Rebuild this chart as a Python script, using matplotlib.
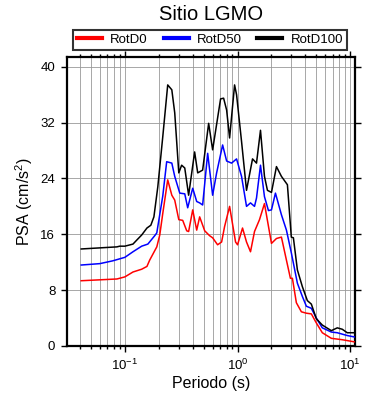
import matplotlib
matplotlib.use("Agg")
import matplotlib.pyplot as plt
from matplotlib.ticker import LogLocator, FixedLocator

plt.rcParams["font.family"] = ["Liberation Sans", "DejaVu Sans"]
plt.rcParams["mathtext.fontset"] = "custom"
plt.rcParams["mathtext.rm"] = "Liberation Sans"
plt.rcParams["mathtext.it"] = "Liberation Sans:italic"

# ------------------------------------------------------------------------------
# data (period in s, PSA in cm/s^2)

periods_d100 = [0.041, 0.085, 0.090, 0.100, 0.118, 0.128, 0.141, 0.157, 0.170, 0.181,
                0.196, 0.217, 0.240, 0.261, 0.277, 0.301, 0.319, 0.340, 0.368, 0.416,
                0.443, 0.490, 0.554, 0.601, 0.707, 0.752, 0.800, 0.850, 0.941, 0.980,
                1.085, 1.201, 1.358, 1.473, 1.598, 1.733, 1.842, 2.0, 2.214, 2.451,
                2.770, 3.0, 3.13, 3.396, 3.760, 4.164, 4.517, 5.003, 5.652, 6.794,
                7.675, 8.494, 9.405, 10.84]
rotd100 = [13.9, 14.2, 14.3, 14.3, 14.6, 15.2, 15.9, 16.9, 17.3, 18.5,
           22.8, 30.0, 37.4, 36.7, 33.4, 24.8, 25.9, 25.5, 21.6, 27.8,
           24.8, 25.2, 31.9, 28.1, 35.4, 35.5, 33.8, 29.8, 37.4, 36.0,
           29.3, 22.3, 26.8, 26.2, 30.9, 24.3, 22.3, 22.0, 25.7, 24.3,
           23.1, 15.6, 15.5, 10.9, 8.5, 6.5, 6.0, 3.9, 3.0, 2.2,
           2.6, 2.4, 1.9, 1.9]

periods_d50 = [0.041, 0.060, 0.078, 0.100, 0.118, 0.141, 0.160, 0.184, 0.192, 0.196,
               0.217, 0.235, 0.261, 0.277, 0.307, 0.340, 0.361, 0.400, 0.434, 0.461,
               0.490, 0.543, 0.601, 0.652, 0.737, 0.800, 0.885, 0.980, 1.085, 1.201,
               1.303, 1.414, 1.473, 1.598, 1.733, 1.880, 2.0, 2.169, 2.451, 2.715,
               3.005, 3.396, 3.760, 4.079, 4.517, 5.003, 5.652, 6.794, 7.675, 9.405,
               10.84]
rotd50 = [11.6, 11.8, 12.2, 12.7, 13.5, 14.3, 14.6, 15.8, 16.2, 17.1,
          21.5, 26.4, 26.2, 24.3, 21.9, 21.8, 19.8, 22.6, 20.7, 20.5,
          20.2, 27.6, 21.6, 24.8, 28.8, 26.5, 26.2, 26.8, 24.3, 20.0,
          20.5, 20.0, 21.2, 25.9, 21.4, 19.4, 19.5, 21.9, 18.8, 16.6,
          13.3, 9.0, 7.1, 5.7, 5.4, 4.0, 2.6, 2.0, 1.9, 1.5,
          1.3]

periods_d0 = [0.041, 0.085, 0.100, 0.118, 0.141, 0.157, 0.166, 0.192, 0.204, 0.217,
              0.240, 0.261, 0.277, 0.301, 0.326, 0.354, 0.368, 0.400, 0.434, 0.461,
              0.511, 0.565, 0.601, 0.665, 0.722, 0.767, 0.850, 0.960, 1.0, 1.107,
              1.201, 1.303, 1.414, 1.566, 1.733, 2.0, 2.214, 2.451, 2.715, 2.945,
              3.067, 3.326, 3.684, 4.079, 4.517, 5.003, 5.652, 6.794, 8.494, 10.84]
rotd0 = [9.35, 9.6, 9.9, 10.6, 11.0, 11.4, 12.3, 14.2, 15.9, 19.0,
         23.8, 21.6, 20.9, 18.1, 18.0, 16.5, 16.4, 19.5, 16.6, 18.5,
         16.5, 15.8, 15.5, 14.5, 14.9, 17.1, 20.0, 14.9, 14.5, 16.9,
         14.9, 13.5, 16.4, 18.1, 20.4, 14.7, 15.4, 15.6, 12.3, 9.7,
         9.7, 6.2, 4.9, 4.7, 4.6, 3.3, 1.9, 1.1, 0.9, 0.6]

series = [
    ("RotD0", periods_d0, rotd0, "#ff0000"),
    ("RotD50", periods_d50, rotd50, "#0000ff"),
    ("RotD100", periods_d100, rotd100, "#000000"),
]

y_ticks = [0, 8, 16, 24, 32, 40]

# ------------------------------------------------------------------------------

fig = plt.figure(figsize=(3.9, 4.0), dpi=100)
ax = fig.add_axes([0.172, 0.135, 0.738, 0.7225])

for name, xs, ys, col in series:
    ax.plot(xs, ys, color=col, lw=1.1, label=name, zorder=3)

ax.set_xscale("log")
ax.set_xlim(0.0307, 11.0)
ax.set_ylim(0, 41.4)

ax.xaxis.set_major_locator(LogLocator(base=10))
ax.xaxis.set_minor_locator(LogLocator(base=10, subs=range(2, 10)))
ax.yaxis.set_major_locator(FixedLocator(y_ticks))

ax.grid(True, which="both", axis="x", color="0.6", lw=0.6)
ax.grid(True, which="major", axis="y", color="0.6", lw=0.6)

ax.tick_params(which="both", direction="out", top=True, right=True,
               labelsize=9.5, width=1.0, colors="k")
ax.tick_params(which="major", length=4.5, pad=4)
ax.tick_params(which="minor", length=2.5)
for s in ax.spines.values():
    s.set_linewidth(1.6)

ax.set_xlabel("Periodo (s)", fontsize=11.5, labelpad=2)
ax.set_ylabel("PSA (cm/s$^2$)", fontsize=11.5, labelpad=4)

leg = ax.legend(loc="lower left", bbox_to_anchor=(0.021, 1.024, 0.951, 0.076),
                mode="expand", ncol=3, fontsize=9.5, handlelength=1.9,
                handletextpad=0.6, borderaxespad=0, fancybox=False,
                frameon=True, borderpad=0.3)
leg.get_frame().set_edgecolor("k")
leg.get_frame().set_linewidth(1.5)
for ln in leg.get_lines():
    ln.set_linewidth(3)

fig.text(0.541, 0.965, "Sitio LGMO", fontsize=14.5, ha="center", va="center")

fig.savefig("out.png", dpi=100, facecolor="w")
